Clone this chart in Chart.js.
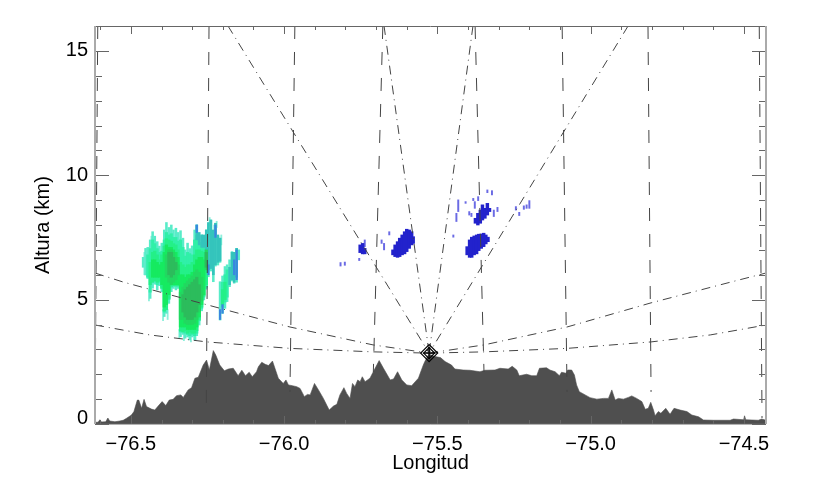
<!DOCTYPE html>
<html lang="es">
<head>
<meta charset="UTF-8">
<title>Altura vs Longitud</title>
<script src="https://cdn.jsdelivr.net/npm/chart.js@4"></script>
<style>
    html, body { margin: 0; padding: 0; background: #ffffff; overflow: hidden; }
    canvas { display: block; }
</style>
</head>
<body>
<canvas id="chart" width="840" height="490"></canvas>
<script>
// axis ranges and ticks
const lonMin = -76.617, lonMax = -74.428;
const altMin = 0, altMax = 16;
const lonTicks = [-76.5, -76.0, -75.5, -75.0, -74.5];
const altTicks = [0, 5, 10, 15];
const lonMinorTicks = [-76.6, -76.4, -76.3, -76.2, -76.1, -75.9, -75.8, -75.7, -75.6, -75.4, -75.3, -75.2, -75.1, -74.9, -74.8, -74.7, -74.6];
const altMinorTicks = [1, 2, 3, 4, 6, 7, 8, 9, 11, 12, 13, 14];

// terrain profile
const terrainLon = [
    -76.617, -76.607, -76.601, -76.596, -76.582, -76.575, -76.569, -76.552, -76.536, -76.525, -76.514, -76.498,
    -76.490, -76.479, -76.474, -76.465, -76.457, -76.449, -76.433, -76.422, -76.406, -76.398, -76.386, -76.375,
    -76.362, -76.351, -76.337, -76.329, -76.313, -76.302, -76.291, -76.280, -76.264, -76.253, -76.244, -76.231,
    -76.223, -76.210, -76.195, -76.182, -76.166, -76.150, -76.138, -76.126, -76.114, -76.104, -76.090, -76.084,
    -76.073, -76.062, -76.051, -76.038, -76.030, -76.019, -76.003, -75.994, -75.986, -75.973, -75.959, -75.948,
    -75.934, -75.924, -75.915, -75.901, -75.888, -75.872, -75.853, -75.839, -75.828, -75.818, -75.805, -75.796,
    -75.785, -75.777, -75.769, -75.760, -75.752, -75.745, -75.736, -75.720, -75.709, -75.690, -75.676, -75.654,
    -75.643, -75.630, -75.616, -75.600, -75.584, -75.562, -75.546, -75.541, -75.528, -75.508, -75.490, -75.475,
    -75.454, -75.443, -75.416, -75.394, -75.361, -75.345, -75.312, -75.296, -75.269, -75.256, -75.241, -75.233,
    -75.209, -75.192, -75.176, -75.167, -75.144, -75.133, -75.116, -75.102, -75.095, -75.080, -75.075, -75.062,
    -75.053, -75.046, -75.037, -75.018, -75.002, -74.980, -74.958, -74.942, -74.931, -74.920, -74.910, -74.893,
    -74.877, -74.866, -74.850, -74.833, -74.822, -74.812, -74.804, -74.795, -74.790, -74.779, -74.771, -74.755,
    -74.741, -74.728, -74.708, -74.686, -74.670, -74.648, -74.632, -74.599, -74.545, -74.534, -74.501, -74.498,
    -74.494, -74.453, -74.442, -74.428
];
const terrainAlt = [
    0.07, 0.07, 0.17, 0.08, 0.09, 0.24, 0.12, 0.09, 0.12, 0.15, 0.23, 0.36,
    0.50, 0.96, 0.96, 0.63, 0.99, 0.70, 0.60, 0.56, 0.79, 0.90, 0.74, 0.96,
    0.99, 1.14, 1.17, 1.07, 1.37, 1.46, 1.84, 1.88, 2.37, 2.57, 2.17, 2.95,
    2.77, 2.37, 2.14, 2.21, 2.24, 1.94, 2.16, 1.94, 2.08, 1.90, 2.10, 2.30,
    2.48, 2.40, 2.35, 2.53, 2.24, 1.84, 1.63, 1.77, 1.57, 1.54, 1.50, 1.43,
    1.10, 1.19, 1.17, 1.63, 1.37, 1.03, 0.56, 0.72, 0.79, 1.17, 1.46, 1.23,
    1.03, 1.63, 1.50, 1.77, 1.70, 1.90, 1.70, 1.84, 2.10, 2.55, 2.24, 1.77,
    1.81, 2.10, 1.77, 1.57, 1.54, 1.84, 2.37, 2.51, 2.81, 2.71, 2.67, 2.51,
    2.37, 2.21, 2.17, 2.16, 2.10, 2.16, 2.17, 2.24, 2.21, 2.32, 2.17, 1.94,
    2.00, 1.94, 1.94, 2.24, 2.26, 2.17, 2.10, 1.94, 2.08, 2.04, 2.17, 2.17,
    1.97, 1.57, 1.30, 1.17, 1.06, 1.00, 1.03, 1.03, 1.37, 0.96, 1.03, 1.00,
    1.07, 1.13, 1.03, 0.90, 0.59, 0.63, 0.87, 0.56, 0.33, 0.50, 0.43, 0.63,
    0.39, 0.63, 0.56, 0.50, 0.36, 0.29, 0.16, 0.15, 0.15, 0.20, 0.17, 0.33,
    0.17, 0.15, 0.20, 0.15
];

// radar position and beam lines, as [lon, alt] pairs
const radar = [-75.527, 2.85];
const beamsUp = [
    [[-76.183, 16], radar],
    [[-75.674, 16], radar],
    [[-75.384, 16], radar],
    [[-74.878, 16], radar]
];
const beamLowLeft = [[-76.617, 3.98], [-76.438, 3.58], [-76.252, 3.30], [-75.981, 3.04], [-75.710, 2.90], radar];
const beamHighLeft = [[-76.617, 6.07], [-76.526, 5.71], [-76.275, 4.87], [-76.079, 4.22], [-75.981, 3.90], [-75.710, 3.18], radar];
const beamLowRight = [radar, [-75.348, 2.90], [-75.077, 3.04], [-74.803, 3.30], [-74.610, 3.58], [-74.428, 3.98]];
const beamHighRight = [radar, [-75.348, 3.18], [-75.077, 3.90], [-74.803, 4.87], [-74.529, 5.75], [-74.428, 6.07]];

// range rings crossing the section
const rings = [
    [[-76.608, 16], [-76.617, 0.24]],
    [[-76.245, 16], [-76.254, 0.56]],
    [[-75.965, 16], [-75.981, 1.29]],
    [[-75.678, 16], [-75.709, 2.09]],
    [[-75.377, 16], [-75.348, 2.09]],
    [[-75.093, 16], [-75.077, 1.29]],
    [[-74.813, 16], [-74.803, 1.29]],
    [[-74.450, 16], [-74.441, 0.24]]
];

// echo columns: [lon, bottom, top]
const echoWisps = [
    [-76.456, 6.00, 6.90], [-76.441, 4.95, 5.40], [-76.433, 7.30, 7.55], [-76.395, 4.15, 4.60], [-76.380, 4.20, 4.60],
    [-76.342, 3.45, 3.80], [-76.327, 3.35, 3.60], [-76.304, 3.30, 3.55], [-76.289, 3.35, 3.60], [-76.243, 8.00, 8.30],
    [-76.228, 7.70, 8.00], [-76.220, 7.90, 8.15], [-76.205, 7.20, 7.60]
];
const echoAqua = [
    [-76.460, 6.30, 6.70], [-76.452, 5.99, 7.06], [-76.445, 5.85, 7.10], [-76.437, 5.05, 7.40], [-76.429, 5.46, 7.73],
    [-76.422, 5.62, 7.55], [-76.414, 5.39, 7.33], [-76.407, 5.56, 7.15], [-76.399, 5.32, 7.27], [-76.391, 4.32, 7.80],
    [-76.384, 4.45, 8.10], [-76.376, 4.85, 7.90], [-76.368, 5.32, 8.00], [-76.361, 5.45, 7.80], [-76.353, 5.39, 7.87],
    [-76.346, 5.45, 7.70], [-76.338, 3.51, 7.77], [-76.330, 3.60, 7.47], [-76.323, 3.45, 7.00], [-76.315, 3.50, 7.27],
    [-76.308, 3.38, 7.05], [-76.300, 3.50, 7.16], [-76.292, 3.38, 7.80], [-76.285, 3.55, 8.00], [-76.277, 3.98, 7.55],
    [-76.269, 4.55, 7.60], [-76.262, 4.99, 7.45], [-76.254, 5.42, 7.80], [-76.247, 5.92, 8.05], [-76.239, 6.15, 8.20],
    [-76.231, 5.72, 7.75], [-76.224, 6.35, 8.07], [-76.216, 6.39, 7.55], [-76.209, 6.50, 7.47],
    [-76.209, 4.18, 5.72], [-76.201, 4.45, 5.95], [-76.193, 4.65, 6.33], [-76.186, 4.92, 6.40], [-76.178, 5.52, 6.60],
    [-76.170, 5.75, 6.93], [-76.163, 5.66, 6.90], [-76.155, 5.70, 7.06], [-76.148, 6.60, 7.00]
];
const echoMint = [
    [-76.445, 5.90, 6.80], [-76.437, 5.30, 7.05], [-76.429, 5.70, 7.40], [-76.422, 5.80, 7.25], [-76.414, 5.60, 7.05],
    [-76.407, 5.70, 6.90], [-76.399, 5.50, 6.95], [-76.391, 4.50, 7.40], [-76.384, 4.60, 7.70], [-76.376, 5.00, 7.60],
    [-76.368, 5.50, 7.65], [-76.361, 5.60, 7.50], [-76.353, 5.55, 7.50], [-76.346, 5.60, 7.35], [-76.338, 3.70, 7.40],
    [-76.330, 3.70, 7.10], [-76.323, 3.65, 6.75], [-76.315, 3.60, 6.90], [-76.308, 3.55, 6.85], [-76.300, 3.60, 6.80],
    [-76.292, 3.55, 7.40], [-76.285, 3.65, 7.60], [-76.277, 4.15, 7.30], [-76.269, 4.65, 7.20], [-76.262, 5.10, 7.15],
    [-76.254, 5.50, 7.40], [-76.201, 4.70, 5.70], [-76.193, 4.90, 6.00], [-76.186, 5.10, 6.20]
];
const echoTeal = [
    [-76.285, 7.40, 8.00], [-76.277, 7.20, 7.70], [-76.269, 7.10, 7.60], [-76.262, 7.10, 7.60], [-76.254, 6.60, 7.80],
    [-76.247, 6.20, 8.10], [-76.239, 6.25, 8.20], [-76.231, 6.00, 7.80], [-76.224, 6.40, 8.07], [-76.216, 6.50, 7.60],
    [-76.209, 6.55, 7.47], [-76.178, 5.60, 6.30], [-76.170, 5.80, 6.90], [-76.163, 5.70, 6.90], [-76.155, 5.90, 7.06]
];
const echoSky = [
    [-76.224, 7.50, 8.00], [-76.247, 6.00, 6.40], [-76.155, 5.80, 7.00], [-76.163, 6.00, 6.60], [-76.209, 4.20, 4.60],
    [-76.201, 4.45, 4.80], [-76.285, 7.70, 8.00]
];
const echoSpring = [
    [-76.437, 5.60, 6.50], [-76.429, 5.70, 6.90], [-76.422, 5.75, 6.95], [-76.414, 5.70, 6.80], [-76.407, 5.75, 6.60],
    [-76.399, 5.45, 6.80], [-76.391, 4.55, 7.15], [-76.384, 4.60, 7.45], [-76.376, 5.05, 7.40], [-76.368, 5.55, 7.35],
    [-76.361, 5.55, 7.25], [-76.353, 5.55, 7.20], [-76.346, 5.55, 7.00], [-76.338, 3.75, 6.50], [-76.330, 3.70, 6.40],
    [-76.323, 3.75, 6.30], [-76.315, 3.65, 6.40], [-76.308, 3.70, 6.40], [-76.300, 3.65, 6.50], [-76.292, 3.65, 6.80],
    [-76.285, 3.75, 7.00], [-76.277, 4.20, 7.00], [-76.269, 4.70, 6.95], [-76.262, 5.15, 6.90], [-76.254, 5.60, 6.90],
    [-76.201, 4.80, 5.40], [-76.193, 5.00, 5.70]
];
const echoGreen = [
    [-76.429, 5.90, 6.60], [-76.422, 5.90, 6.60], [-76.414, 5.90, 6.50], [-76.407, 5.90, 6.40], [-76.399, 5.60, 6.50],
    [-76.391, 4.70, 6.90], [-76.384, 4.80, 7.20], [-76.376, 5.20, 7.10], [-76.368, 5.60, 7.10], [-76.361, 5.60, 7.00],
    [-76.353, 5.60, 6.90], [-76.346, 5.60, 6.70], [-76.338, 3.90, 6.00], [-76.330, 3.90, 6.00], [-76.323, 3.90, 5.90],
    [-76.315, 3.80, 6.00], [-76.308, 3.80, 6.00], [-76.300, 3.80, 6.10], [-76.292, 3.80, 6.40], [-76.285, 3.90, 6.60],
    [-76.277, 4.30, 6.70], [-76.269, 4.80, 6.70], [-76.262, 5.20, 6.60]
];
const echoMid = [
    [-76.384, 5.90, 6.80], [-76.376, 5.70, 7.00], [-76.368, 5.60, 7.00], [-76.361, 5.70, 6.90], [-76.353, 5.80, 6.70],
    [-76.346, 6.00, 6.40], [-76.338, 4.20, 5.30], [-76.330, 4.20, 5.50], [-76.323, 4.05, 5.65], [-76.315, 4.00, 5.75],
    [-76.308, 4.00, 5.85], [-76.300, 4.00, 5.95], [-76.292, 4.05, 6.10], [-76.285, 4.20, 6.20], [-76.277, 4.50, 6.10],
    [-76.269, 4.95, 5.90], [-76.254, 6.20, 7.00]
];
const echoCore = [
    [-76.376, 6.00, 6.90], [-76.368, 5.90, 6.90], [-76.361, 6.00, 6.70], [-76.353, 6.20, 6.50],
    [-76.330, 4.50, 5.20], [-76.323, 4.30, 5.40], [-76.315, 4.20, 5.50], [-76.308, 4.20, 5.60], [-76.300, 4.20, 5.70],
    [-76.292, 4.30, 5.80], [-76.285, 4.50, 5.90], [-76.277, 4.80, 5.60], [-76.254, 6.30, 6.90]
];
const echoBlue = [
    [-75.752, 6.89, 7.20], [-75.744, 6.84, 7.26], [-75.737, 6.84, 7.06],
    [-75.645, 6.80, 7.00], [-75.638, 6.73, 7.20], [-75.630, 6.70, 7.33], [-75.623, 6.73, 7.47], [-75.615, 6.80, 7.60],
    [-75.607, 6.84, 7.73], [-75.600, 6.93, 7.83], [-75.592, 7.06, 7.80], [-75.584, 7.20, 7.73], [-75.579, 7.26, 7.53],
    [-75.403, 6.80, 7.13], [-75.395, 6.70, 7.40], [-75.388, 6.70, 7.51], [-75.380, 6.80, 7.56], [-75.372, 6.84, 7.60],
    [-75.365, 6.97, 7.63], [-75.357, 7.06, 7.64], [-75.349, 7.13, 7.67], [-75.342, 7.24, 7.60], [-75.335, 7.33, 7.51],
    [-75.376, 8.07, 8.27], [-75.368, 8.00, 8.47], [-75.360, 8.07, 8.60], [-75.353, 8.20, 8.81], [-75.345, 8.27, 8.67],
    [-75.337, 8.40, 8.87], [-75.330, 8.54, 8.67]
];
const echoSpecks = [
    [-75.816, 6.35, 6.49], [-75.802, 6.38, 6.51], [-75.755, 6.57, 6.66], [-75.682, 7.26, 7.40], [-75.674, 7.00, 7.26],
    [-75.657, 7.60, 7.73], [-75.737, 7.13, 7.40], [-75.432, 8.54, 9.01], [-75.438, 8.14, 8.47], [-75.448, 7.51, 7.60],
    [-75.408, 8.87, 8.94], [-75.396, 8.40, 8.54], [-75.389, 8.34, 8.47], [-75.383, 8.98, 9.07], [-75.378, 8.67, 8.94],
    [-75.367, 8.98, 9.14], [-75.337, 9.30, 9.41], [-75.322, 9.21, 9.38], [-75.316, 8.34, 8.60], [-75.304, 8.54, 8.71],
    [-75.244, 8.60, 8.74], [-75.233, 8.38, 8.51], [-75.218, 8.63, 8.77], [-75.209, 8.67, 8.81], [-75.200, 8.67, 8.98]
];

function pairs(list) {
    return list.map(p => ({ x: p[0], y: p[1] }));
}

function columns(list, color, width) {
    return {
        type: 'bar',
        data: list.map(c => ({ x: c[0], y: [c[1], c[2]] })),
        backgroundColor: color,
        borderWidth: 0,
        barThickness: width,
        grouped: false
    };
}

function dashed(list, dash) {
    return {
        type: 'line',
        data: pairs(list),
        borderColor: '#444444',
        borderWidth: 1,
        borderDash: dash,
        pointRadius: 0,
        tension: 0,
        fill: false
    };
}

function marker(style, size) {
    return {
        type: 'line',
        data: pairs([radar]),
        showLine: false,
        pointStyle: style,
        pointRadius: size,
        pointBorderColor: '#000000',
        pointBackgroundColor: 'transparent',
        pointBorderWidth: 1.2
    };
}

const beamDash = [9, 5, 1, 5];
const ringDash = [13, 13];

// first dataset ends up on top
const datasets = [
    marker('rectRot', 8.5),
    marker('rectRot', 5.5),
    marker('cross', 6),
    ...beamsUp.map(b => dashed(b, beamDash)),
    dashed(beamLowLeft, beamDash),
    dashed(beamHighLeft, beamDash),
    dashed(beamLowRight, beamDash),
    dashed(beamHighRight, beamDash),
    ...rings.map(r => dashed(r, ringDash)),
    columns(echoBlue, '#2222cc', 2.8),
    columns(echoSpecks, '#6a6ae4', 1.3),
    columns(echoCore, '#2cbc5c', 2.6),
    columns(echoMid, '#22d860', 2.6),
    columns(echoGreen, '#16ea60', 2.6),
    columns(echoSky, '#3a86e0', 1.6),
    columns(echoSpring, '#24f088', 2.6),
    columns(echoTeal, '#34c4bc', 2),
    columns(echoMint, '#30f0a8', 2.4),
    columns(echoAqua, '#58ecc8', 1.9),
    columns(echoWisps, '#8ef0dc', 1.2),
    {
        type: 'line',
        data: terrainLon.map((lon, i) => ({ x: lon, y: terrainAlt[i] })),
        borderColor: '#4f4f4f',
        borderWidth: 0.6,
        backgroundColor: '#4f4f4f',
        pointRadius: 0,
        tension: 0,
        fill: 'start'
    }
];

// IDL style frame: ticks point inwards on all four sides
const framePlugin = {
    id: 'frame',
    afterDatasetsDraw(chart) {
        const { ctx, chartArea: a, scales: { x, y } } = chart;
        ctx.save();
        ctx.strokeStyle = '#666666';
        ctx.lineWidth = 1;
        ctx.beginPath();
        ctx.moveTo(a.left, a.top + 0.5);
        ctx.lineTo(a.right, a.top + 0.5);
        ctx.moveTo(a.left, a.bottom);
        ctx.lineTo(a.right, a.bottom);
        const xTick = (v, len) => {
            const px = Math.round(x.getPixelForValue(v)) + 0.5;
            ctx.moveTo(px, a.top);
            ctx.lineTo(px, a.top + len);
            ctx.moveTo(px, a.bottom);
            ctx.lineTo(px, a.bottom - len);
        };
        const yTick = (v, len) => {
            const py = Math.round(y.getPixelForValue(v)) + 0.5;
            ctx.moveTo(a.left, py);
            ctx.lineTo(a.left + len, py);
            ctx.moveTo(a.right, py);
            ctx.lineTo(a.right - len, py);
        };
        lonTicks.forEach(v => xTick(v, 8));
        lonMinorTicks.forEach(v => xTick(v, 4));
        altTicks.forEach(v => yTick(v, 14));
        altMinorTicks.forEach(v => yTick(v, 7));
        ctx.stroke();
        ctx.strokeStyle = '#aaaaaa';
        ctx.lineWidth = 2;
        ctx.beginPath();
        ctx.moveTo(a.left, a.top);
        ctx.lineTo(a.left, a.bottom);
        ctx.moveTo(a.right, a.top);
        ctx.lineTo(a.right, a.bottom);
        ctx.stroke();
        ctx.restore();
    }
};

const labelFont = { family: 'Liberation Sans', size: 20 };

new Chart(document.getElementById('chart').getContext('2d'), {
    data: { datasets: datasets },
    plugins: [framePlugin],
    options: {
        responsive: false,
        animation: false,
        layout: { padding: { top: 26, right: 74, left: 0, bottom: 0 } },
        plugins: { legend: { display: false }, tooltip: { enabled: false } },
        scales: {
            x: {
                type: 'linear',
                offset: false,
                min: lonMin,
                max: lonMax,
                afterBuildTicks: s => { s.ticks = lonTicks.map(v => ({ value: v })); },
                afterFit: s => { s.height = 66; },
                grid: { display: false, drawTicks: false },
                border: { display: false },
                ticks: {
                    autoSkip: false,
                    maxRotation: 0,
                    padding: 8,
                    color: '#000000',
                    font: labelFont,
                    callback: v => '\u2212' + Math.abs(v).toFixed(1)
                },
                title: {
                    display: true,
                    text: 'Longitud',
                    color: '#000000',
                    font: labelFont,
                    padding: { top: 0, bottom: 15 }
                }
            },
            y: {
                type: 'linear',
                min: altMin,
                max: altMax,
                afterBuildTicks: s => { s.ticks = altTicks.map(v => ({ value: v })); },
                afterFit: s => { s.width = 95; },
                grid: { display: false, drawTicks: false },
                border: { display: false },
                ticks: {
                    autoSkip: false,
                    padding: 7,
                    color: '#000000',
                    // the 0 label sits above its tick, an empty second line lifts it
                    font: c => c.tick && c.tick.value === 0 ? { ...labelFont, lineHeight: 0.6 } : labelFont,
                    callback: v => v === 0 ? ['0', ''] : String(v)
                },
                title: {
                    display: true,
                    text: 'Altura (km)',
                    color: '#000000',
                    font: labelFont,
                    padding: { top: 31, bottom: 0 }
                }
            }
        }
    }
});
</script>
</body>
</html>
